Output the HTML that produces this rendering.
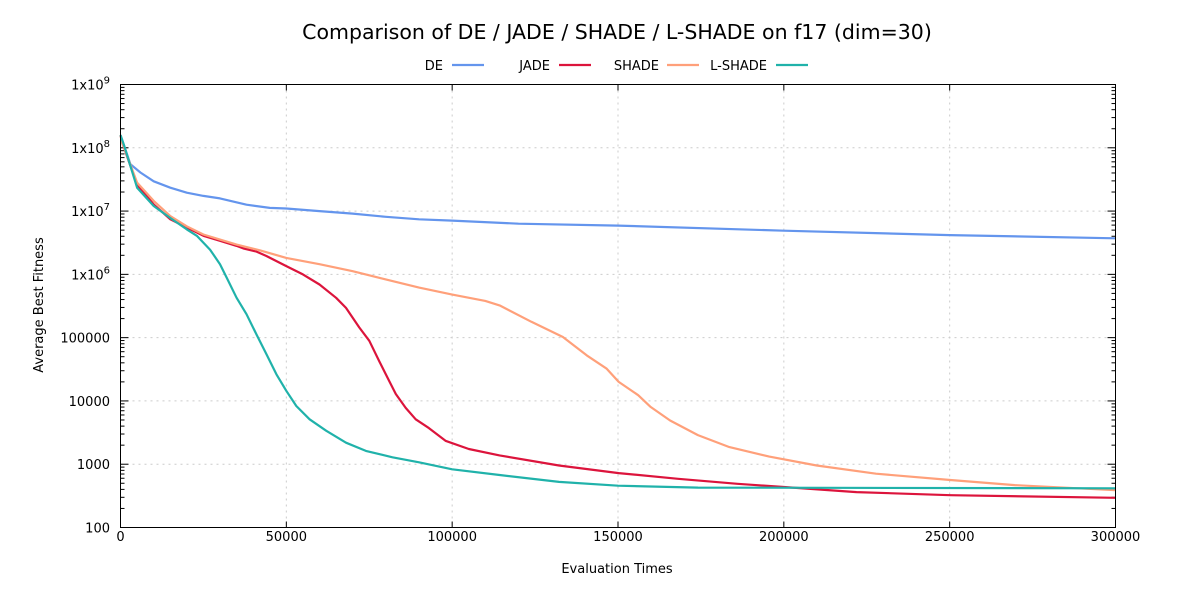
<!DOCTYPE html>
<html><head><meta charset="utf-8"><style>
body{margin:0;background:#fff;}
svg text{font-family:"DejaVu Sans","Liberation Sans",sans-serif;}
</style></head><body>
<svg id="chart" width="1200" height="600" xmlns="http://www.w3.org/2000/svg">
<text x="617" y="39" text-anchor="middle" font-size="20.5">Comparison of DE / JADE / SHADE / L-SHADE on f17 (dim=30)</text>
<g id="grid"></g>
<g id="axes"></g>
<g id="series"></g>
<rect x="120.5" y="84.5" width="995" height="443" fill="none" stroke="#000" stroke-width="1"/>
<text x="617" y="573" text-anchor="middle" font-size="13">Evaluation Times</text>
<text transform="translate(43,305) rotate(-90)" text-anchor="middle" font-size="13">Average Best Fitness</text>
<g id="legend"></g>
</svg>
<script>
const xTicks=[0,50000,100000,150000,200000,250000,300000];
const yDecades=[2,3,4,5,6,7,8,9];
const seriesNames=["DE","JADE","SHADE","L-SHADE"];
const seriesColors=["#6495ED","#DC143C","#FFA07A","#20B2AA"];
const deX=[0,3000,6000,10000,15000,20000,25000,30000,38000,45000,50000,60000,70000,80000,90000,100000,120000,150000,200000,250000,300000];
const deLog=[8.2,7.74,7.61,7.47,7.37,7.29,7.24,7.2,7.1,7.05,7.04,7.0,6.96,6.91,6.87,6.85,6.8,6.77,6.69,6.62,6.57];
const jadeX=[0,500,5000,10000,15000,20000,25000,30000,35000,37000,41000,44000,50000,55000,60000,65000,68000,72000,75000,78000,80000,83000,86000,89000,93000,98000,105000,114300,132200,150200,168100,186000,200000,221900,250200,300000];
const jadeLog=[8.2,8.08,7.42,7.105,6.87,6.74,6.61,6.53,6.45,6.41,6.36,6.29,6.13,6.0,5.84,5.63,5.47,5.16,4.95,4.63,4.42,4.11,3.89,3.71,3.57,3.37,3.24,3.14,2.98,2.86,2.77,2.69,2.64,2.56,2.51,2.47];
const shadeX=[0,500,5000,10000,15000,20000,25000,30000,35000,42000,50000,60000,70000,80000,90000,100000,110000,114300,123900,133400,140600,146600,150200,156100,159700,165700,174100,183600,195600,209900,227800,250200,269600,300000];
const shadeLog=[8.2,8.08,7.45,7.16,6.92,6.76,6.63,6.55,6.47,6.38,6.26,6.16,6.05,5.92,5.79,5.68,5.58,5.51,5.25,5.01,4.72,4.51,4.30,4.09,3.91,3.69,3.46,3.27,3.12,2.98,2.85,2.75,2.67,2.59];
const lshadeX=[0,1000,5000,10000,15000,20000,23000,27000,30000,32000,35000,38000,41000,44000,47000,50000,53000,57000,62000,68000,74000,82000,90000,100000,114300,132200,150000,174100,300000];
const lshadeLog=[8.2,8.05,7.37,7.08,6.89,6.71,6.61,6.39,6.16,5.95,5.63,5.37,5.05,4.74,4.42,4.16,3.92,3.71,3.53,3.34,3.21,3.11,3.03,2.92,2.83,2.72,2.66,2.63,2.62];
const NS="http://www.w3.org/2000/svg";
const X0=120.5,X1=1115.5,Y0=527.5,Y1=84.5;
function xs(v){return X0+v/300000*(X1-X0);}
function ys(l){return Y0-(l-2)/7*(Y0-Y1);}
function mk(t,a,p){const e=document.createElementNS(NS,t);for(const k in a)e.setAttribute(k,a[k]);p.appendChild(e);return e;}
const grid=document.getElementById('grid'),axes=document.getElementById('axes');
xTicks.forEach(v=>{
  const x=xs(v);
  if(v>0&&v<300000){const g=mk('line',{x1:x,x2:x,y1:Y1,y2:Y0,stroke:'#ccc','stroke-dasharray':'2,4'},grid);
  
  }
  mk('line',{x1:x,x2:x,y1:Y0,y2:Y0-6,stroke:'#000'},axes);
  mk('line',{x1:x,x2:x,y1:Y1,y2:Y1+6,stroke:'#000'},axes);
  const t=mk('text',{x:x,y:541,'text-anchor':'middle','font-size':'13'},axes);
  t.textContent=String(v);
  
  
});
yDecades.forEach(d=>{
  const y=ys(d);
  if(d>2&&d<9){const g=mk('line',{x1:X0,x2:X1,y1:y,y2:y,stroke:'#ccc','stroke-dasharray':'2,4'},grid);
  
  }
  mk('line',{x1:X0,x2:X0+8,y1:y,y2:y,stroke:'#000'},axes);
  mk('line',{x1:X1,x2:X1-8,y1:y,y2:y,stroke:'#000'},axes);
  if(d<9){for(let m=2;m<10;m++){const yy=ys(d+Math.log10(m));
    mk('line',{x1:X0,x2:X0+4,y1:yy,y2:yy,stroke:'#000'},axes);
    mk('line',{x1:X1,x2:X1-4,y1:yy,y2:yy,stroke:'#000'},axes);}}
  const t=mk('text',{x:110,y:y+5,'text-anchor':'end','font-size':'13'},axes);
  
  
  if(d<=5){t.textContent=String(Math.pow(10,d));}
  else{t.textContent='1x10';const s=mk('tspan',{dy:'-6','font-size':'10'},t);s.textContent=String(d);}
});
const xsArr=[deX,jadeX,shadeX,lshadeX],lsArr=[deLog,jadeLog,shadeLog,lshadeLog];
const sg=document.getElementById('series');
seriesNames.forEach((n,i)=>{
  const d=xsArr[i].map((v,j)=>(j?'L':'M')+xs(v).toFixed(1)+','+ys(lsArr[i][j]).toFixed(1)).join('');
  const p=mk('path',{d:d,fill:'none',stroke:seriesColors[i],'stroke-width':'2.2','stroke-linejoin':'round'},sg);
  
  
});
const lg=document.getElementById('legend');
const lgText=[443,550,659,767],lgLine=[452,559,667,776];
seriesNames.forEach((n,i)=>{
  const t=mk('text',{x:lgText[i],y:70,'text-anchor':'end','font-size':'13'},lg);
  t.textContent=n;
  
  
  const l=mk('line',{x1:lgLine[i],x2:lgLine[i]+32,y1:65,y2:65,stroke:seriesColors[i],'stroke-width':'2.2'},lg);
  
  
});
</script>
</body></html>
